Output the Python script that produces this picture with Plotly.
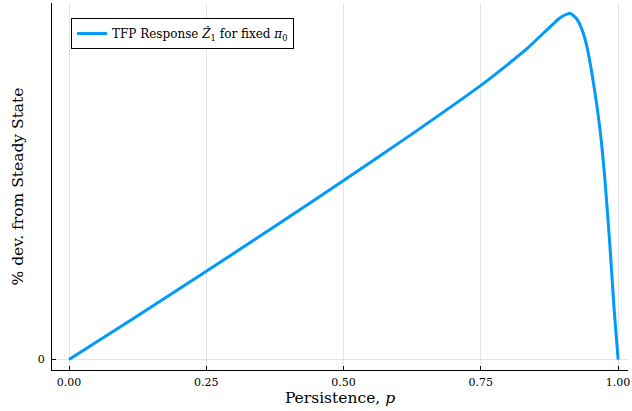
import plotly.graph_objects as go

persistence = [0.0, 0.125, 0.25, 0.375, 0.5, 0.625, 0.75, 0.797, 0.834, 0.858, 0.882, 0.895,
               0.907, 0.913, 0.925, 0.935, 0.943, 0.955, 0.967, 0.976, 0.985, 0.993, 1.0]
response = [0.0, 0.127, 0.255, 0.385, 0.517, 0.652, 0.792, 0.850, 0.898, 0.934, 0.970, 0.988,
            0.998, 1.0, 0.983, 0.95, 0.905, 0.80, 0.665, 0.52, 0.33, 0.14, 0.0]
x_ticks = [0.0, 0.25, 0.5, 0.75, 1.0]
x_tick_labels = ["0.00", "0.25", "0.50", "0.75", "1.00"]
y_ticks = [0]
y_tick_labels = ["0"]

FONT = "DejaVu Serif"

fig = go.Figure()
fig.add_trace(go.Scatter(
    x=persistence, y=response, mode="lines",
    line=dict(color="#009AFA", width=3, shape="spline", smoothing=0.5),
    name="TFP Response <i>Ẑ</i><sub>1</sub> for fixed <i>π</i><sub>0</sub>",
))

fig.update_layout(
    width=632, height=411,
    margin=dict(l=52, r=4, t=3, b=41),
    paper_bgcolor="white", plot_bgcolor="white",
    font=dict(family=FONT, color="black"),
    showlegend=True,
    legend=dict(x=0.033, y=0.959, xanchor="left", yanchor="top",
                bgcolor="white", bordercolor="black", borderwidth=1,
                font=dict(family=FONT, size=12)),
    xaxis=dict(
        range=[-0.031, 1.018], automargin=False,
        tickvals=x_ticks, ticktext=x_tick_labels,
        ticks="inside", ticklen=4, tickcolor="black",
        showline=True, linecolor="black", linewidth=1,
        showgrid=True, gridcolor="rgba(0,0,0,0.1)", gridwidth=1,
        zeroline=False,
        tickfont=dict(family=FONT, size=11),
        ticklabelstandoff=2,
        title=dict(text="Persistence, <i>p</i>", font=dict(family=FONT, size=15.5), standoff=2),
    ),
    yaxis=dict(
        range=[-0.03, 1.03], automargin=False,
        tickvals=y_ticks, ticktext=y_tick_labels,
        ticks="inside", ticklen=4, tickcolor="black",
        showline=True, linecolor="black", linewidth=1,
        showgrid=True, gridcolor="rgba(0,0,0,0.1)", gridwidth=1,
        zeroline=False,
        tickfont=dict(family=FONT, size=11),
        ticklabelstandoff=4,
        title=dict(text="% dev. from Steady State", font=dict(family=FONT, size=15.5), standoff=10),
    ),
)

fig.write_html("out.html", config={"displayModeBar": False},
               post_script="document.body.style.margin='0';")
